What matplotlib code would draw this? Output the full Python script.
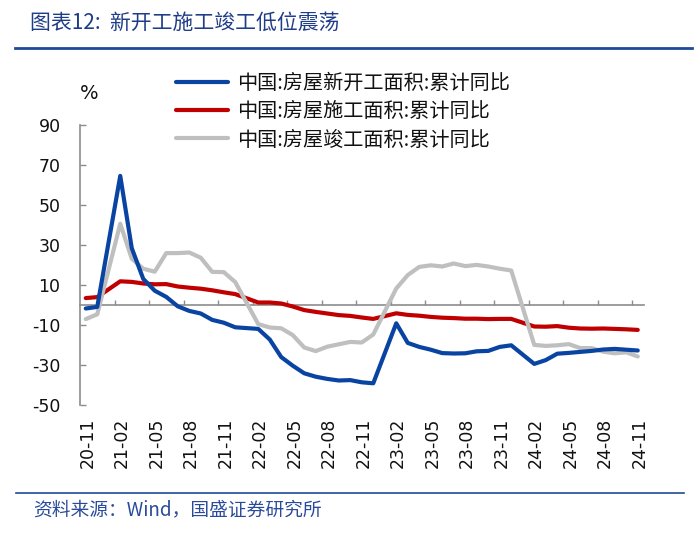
import matplotlib
matplotlib.use("Agg")
import matplotlib.pyplot as plt
import matplotlib.transforms as mtransforms
from matplotlib.lines import Line2D
import numpy as np
import pandas as pd

plt.rcParams['font.family'] = ['DejaVu Sans', 'Noto Sans CJK SC']

# ---- data (cumulative YoY, %; January not published -> None) ----
months = list(pd.period_range('2020-11', '2024-11', freq='M').strftime('%y-%m'))

new_starts = [-2.0, -1.2, None, 64.3, 28.2, 12.8, 6.9, 3.8, -0.9, -3.2, -4.5, -7.7, -9.1, -11.4,
              None, -12.2, -17.5, -26.3, -30.6, -34.4, -36.1, -37.2, -38.0, -37.8, -38.9, -39.4,
              None, -9.4, -19.2, -21.2, -22.6, -24.3, -24.5, -24.4, -23.4, -23.2, -21.2, -20.4,
              None, -29.7, -27.8, -24.6, -24.2, -23.7, -23.2, -22.5, -22.2, -22.6, -23.0]

under_constr = [3.2, 3.7, None, 11.6, 11.3, 10.5, 10.1, 10.2, 9.0, 8.4, 7.9, 7.1, 6.1, 5.2,
                None, 1.0, 1.0, 0.5, -1.0, -2.8, -3.7, -4.5, -5.3, -5.7, -6.5, -7.2,
                None, -4.4, -5.2, -5.6, -6.2, -6.6, -6.8, -7.1, -7.1, -7.3, -7.2, -7.2,
                None, -11.0, -11.1, -10.8, -11.6, -12.0, -12.1, -12.0, -12.2, -12.4, -12.7]

completed = [-7.3, -4.9, None, 40.4, 22.9, 17.9, 16.4, 25.7, 25.7, 26.0, 23.4, 16.3, 16.2, 11.2,
             None, -9.8, -11.5, -11.9, -15.3, -21.5, -23.3, -21.1, -19.9, -18.7, -19.0, -15.0,
             None, 8.0, 14.7, 18.8, 19.6, 19.0, 20.5, 19.2, 19.8, 19.0, 17.9, 17.0,
             None, -20.2, -20.7, -20.4, -19.8, -21.8, -21.8, -23.6, -24.4, -23.9, -26.0]

series_names = ['中国:房屋新开工面积:累计同比', '中国:房屋施工面积:累计同比', '中国:房屋竣工面积:累计同比']
series_colors = ['#0A44A3', '#C00000', '#BFBFBF']
yticks = [90, 70, 50, 30, 10, -10, -30, -50]

title = '图表12:  新开工施工竣工低位震荡'
source = '资料来源：Wind，国盛证券研究所'

# ---- figure ----
W, H = 700, 539
fig = plt.figure(figsize=(W / 100, H / 100), dpi=100)
ax = fig.add_axes([80 / W, 134.5 / H, 563.5 / W, 280 / H])

x = np.arange(len(months))
zorders = [4, 2, 3]
handles = []
for vals, name, col, zo in zip([new_starts, under_constr, completed], series_names, series_colors, zorders):
    arr = np.array([np.nan if v is None else v for v in vals], dtype=float)
    m = ~np.isnan(arr)
    ln, = ax.plot(x[m], arr[m], color=col, lw=3.0, solid_joinstyle='round',
                  solid_capstyle='round', zorder=zo, label=name)
    handles.append(ln)

ax.set_xlim(-0.5, len(months) - 0.5)
ax.set_ylim(-50, 90)
ax.set_yticks(yticks)
ax.set_yticklabels([str(v) for v in yticks])

axis_col = '#8C8C8C'
for s in ['top', 'right']:
    ax.spines[s].set_visible(False)
ax.spines['left'].set_color(axis_col)
ax.spines['left'].set_linewidth(1.2)
ax.spines['bottom'].set_position(('data', 0))
ax.spines['bottom'].set_color(axis_col)
ax.spines['bottom'].set_linewidth(1.2)
ax.spines['bottom'].set_zorder(1)

ax.tick_params(axis='y', direction='in', length=4, width=1, color=axis_col,
               labelsize=12.5, pad=14, labelcolor='#111111')
ax.set_xticks(np.arange(2.5, len(months) - 0.5, 3))
ax.tick_params(axis='x', direction='in', length=3.5, width=1, color=axis_col, labelbottom=False)

trans = mtransforms.blended_transform_factory(ax.transData, ax.transAxes)
for i in range(0, len(months), 3):
    ax.text(i + 0.15, -0.047, months[i], transform=trans, rotation=90, ha='center', va='top',
            fontsize=12.5, color='#111111')

ax.text(80 / W, 1 - 94 / H, '%', transform=fig.transFigure, ha='left', va='center',
        fontsize=14, color='#111111')

leg = ax.legend(handles=handles, loc='upper left', bbox_to_anchor=(176 / W, 1 - 73 / H),
                bbox_transform=fig.transFigure, frameon=False, borderpad=0, borderaxespad=0,
                handlelength=2.6, handletextpad=0.45, labelspacing=0.36,
                prop={'family': ['Noto Sans CJK SC', 'DejaVu Sans'], 'size': 14.5})
for t in leg.get_texts():
    t.set_color('#111111')
for lh in leg.get_lines():
    lh.set_linewidth(3.0)

# title, separators, source
blue_dark = '#1F3C88'
fig.text(30 / W, 1 - 23 / H, title, ha='left', va='center', fontsize=15, color=blue_dark,
         family=['Noto Sans CJK SC', 'DejaVu Sans'], style='italic')
fig.add_artist(Line2D([15 / W, 692 / W], [1 - 47.5 / H] * 2, transform=fig.transFigure,
                      color='#1F4A9A', lw=2.0))
fig.add_artist(Line2D([16 / W, 684 / W], [1 - 493 / H] * 2, transform=fig.transFigure,
                      color='#1F4A9A', lw=1.2))
fig.text(33 / W, 1 - 510 / H, source, ha='left', va='center', fontsize=13.5, color='#2A4B9B',
         family=['Noto Sans CJK SC', 'DejaVu Sans'], style='italic')

fig.savefig('out.png', dpi=100, facecolor='white')
